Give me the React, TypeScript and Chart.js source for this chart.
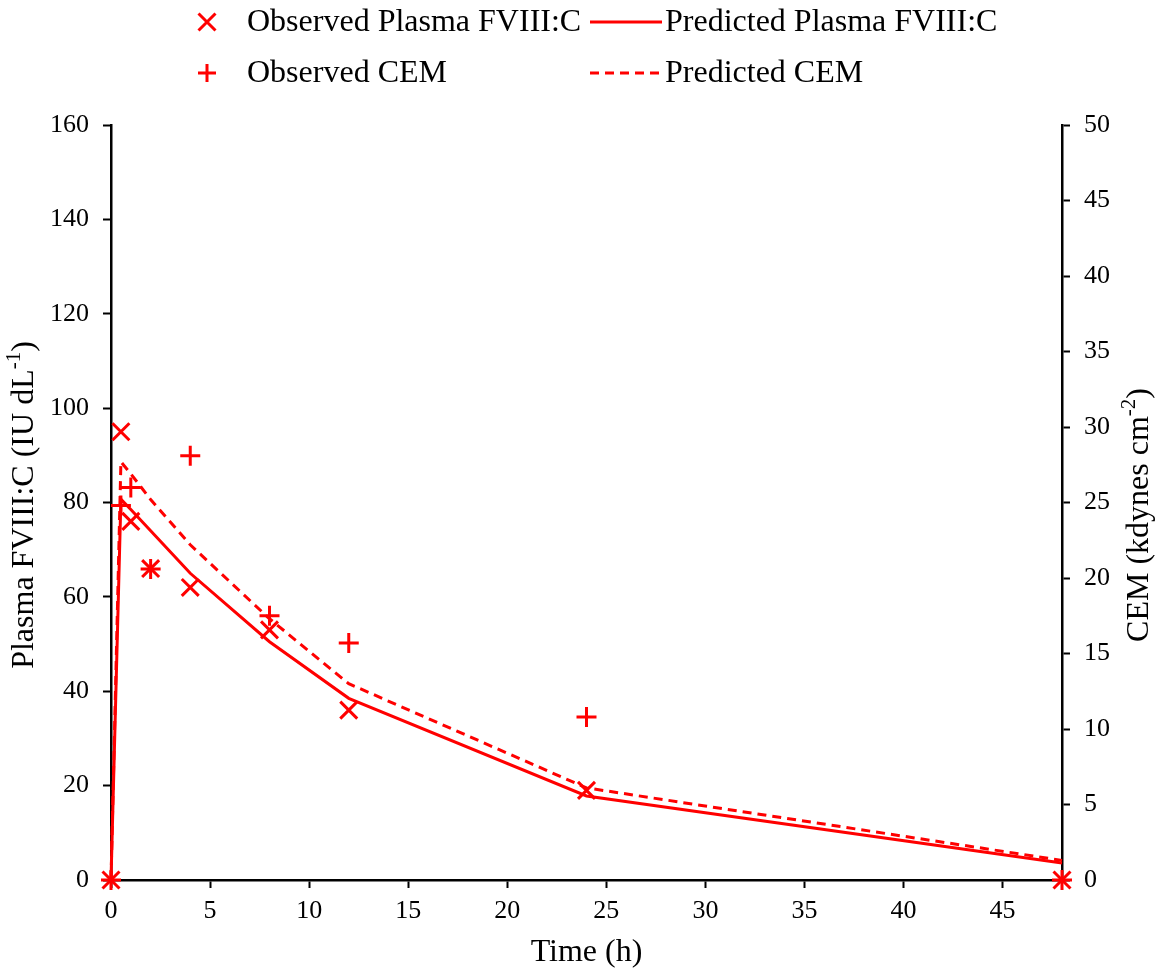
import React, { useEffect, useRef } from "react";
import { Chart, registerables } from "chart.js";

Chart.register(...registerables);

// ---- Data ----
const timeObserved = [0, 0.5, 1, 2, 4, 8, 12, 24, 48];
const plasmaObserved = [0, 95, 76, 66, 62, 53, 36, 19, 0];
const cemObserved = [0, 24.8, 26.0, 20.6, 28.1, 17.5, 15.7, 10.8, 0];

const timePredicted = [0, 0.5, 1, 2, 4, 8, 12, 24, 48];
const plasmaPredicted = [0, 80.7, 78.5, 74, 65, 50.5, 38.5, 17.8, 3.6];
const cemPredicted = [0, 27.7, 26.9, 25.2, 22.2, 17.3, 13.0, 6.1, 1.3];

const xTicks = [0, 5, 10, 15, 20, 25, 30, 35, 40, 45];
const leftTicks = [0, 20, 40, 60, 80, 100, 120, 140, 160];
const rightTicks = [0, 5, 10, 15, 20, 25, 30, 35, 40, 45, 50];

const seriesLabels = [
  "Observed Plasma FVIII:C",
  "Predicted Plasma FVIII:C",
  "Observed CEM",
  "Predicted CEM",
];

const RED = "#ff0000";
const FONT = '"Liberation Serif", "Times New Roman", serif';
const TITLE_SIZE = 32;

type Part = { t: string; sup?: boolean };

function drawRich(
  ctx: CanvasRenderingContext2D,
  parts: Part[],
  cx: number,
  cy: number,
  size: number,
  rotation: number
) {
  ctx.save();
  ctx.translate(cx, cy);
  ctx.rotate(rotation);
  ctx.fillStyle = "#000";
  ctx.textBaseline = "middle";
  ctx.textAlign = "left";
  const supSize = Math.round(size * 0.65);
  let total = 0;
  const widths = parts.map((p) => {
    ctx.font = `${p.sup ? supSize : size}px ${FONT}`;
    const w = ctx.measureText(p.t).width;
    total += w;
    return w;
  });
  let x = -total / 2;
  parts.forEach((p, i) => {
    ctx.font = `${p.sup ? supSize : size}px ${FONT}`;
    ctx.fillText(p.t, x, p.sup ? -size * 0.33 : 0);
    x += widths[i];
  });
  ctx.restore();
}

function drawMarker(ctx: CanvasRenderingContext2D, style: string, x: number, y: number, r: number) {
  ctx.save();
  ctx.strokeStyle = RED;
  ctx.lineWidth = 3;
  ctx.beginPath();
  if (style === "crossRot") {
    const d = r * Math.SQRT1_2;
    ctx.moveTo(x - d, y - d);
    ctx.lineTo(x + d, y + d);
    ctx.moveTo(x + d, y - d);
    ctx.lineTo(x - d, y + d);
  } else {
    ctx.moveTo(x - r, y);
    ctx.lineTo(x + r, y);
    ctx.moveTo(x, y - r);
    ctx.lineTo(x, y + r);
  }
  ctx.stroke();
  ctx.restore();
}

const legendSlots = [
  { x: 207, y: 22 },
  { x: 590, y: 22 },
  { x: 207, y: 73 },
  { x: 590, y: 73 },
];

const customPlugin = {
  id: "customDecor",
  afterDraw(chart: any) {
    const ctx: CanvasRenderingContext2D = chart.ctx;
    const area = chart.chartArea;
    const midX = (area.left + area.right) / 2;

    // Axis titles
    drawRich(ctx, [{ t: "Time (h)" }], midX, 953, TITLE_SIZE, 0);
    drawRich(
      ctx,
      [{ t: "Plasma FVIII:C (IU dL" }, { t: "-1", sup: true }, { t: ")" }],
      25,
      505,
      TITLE_SIZE,
      -Math.PI / 2
    );
    drawRich(
      ctx,
      [{ t: "CEM (kdynes cm" }, { t: "-2", sup: true }, { t: ")" }],
      1140,
      515,
      TITLE_SIZE,
      -Math.PI / 2
    );

    // Legend
    chart.data.datasets.forEach((ds: any, i: number) => {
      const slot = legendSlots[i];
      ctx.save();
      let textX: number;
      if (ds.showLine) {
        ctx.strokeStyle = RED;
        ctx.lineWidth = 3;
        ctx.setLineDash(ds.borderDash || []);
        ctx.beginPath();
        ctx.moveTo(slot.x, slot.y);
        ctx.lineTo(slot.x + 72, slot.y);
        ctx.stroke();
        ctx.setLineDash([]);
        textX = slot.x + 75;
      } else {
        drawMarker(ctx, ds.pointStyle, slot.x, slot.y, ds.pointStyle === "crossRot" ? 12 : 9);
        textX = slot.x + 40;
      }
      ctx.fillStyle = "#000";
      ctx.font = `${TITLE_SIZE}px ${FONT}`;
      ctx.textBaseline = "middle";
      ctx.textAlign = "left";
      ctx.fillText(ds.label, textX, slot.y + 1);
      ctx.restore();
    });
  },
};

export default function App() {
  const canvasRef = useRef<HTMLCanvasElement | null>(null);

  useEffect(() => {
    const canvas = canvasRef.current;
    if (!canvas) return;
    const toPts = (xs: number[], ys: number[]) => xs.map((x, i) => ({ x, y: ys[i] }));

    const tickFont = { family: FONT, size: 26 };
    const gridCommon = {
      display: true,
      drawOnChartArea: false,
      drawTicks: true,
      tickLength: 8,
      tickWidth: 2,
      tickColor: "#000",
      color: "#000",
    };
    const borderCommon = { display: true, color: "#000", width: 2.5 };

    const chart = new Chart(canvas, {
      type: "scatter",
      data: {
        datasets: [
          {
            label: seriesLabels[0],
            data: toPts(timeObserved, plasmaObserved),
            yAxisID: "y",
            pointStyle: "crossRot",
            pointRadius: 12,
            pointBorderWidth: 3,
            borderColor: RED,
            backgroundColor: RED,
            showLine: false,
            clip: false,
          },
          {
            label: seriesLabels[1],
            data: toPts(timePredicted, plasmaPredicted),
            yAxisID: "y",
            showLine: true,
            pointRadius: 0,
            borderColor: RED,
            borderWidth: 3,
            backgroundColor: RED,
            clip: false,
          },
          {
            label: seriesLabels[2],
            data: toPts(timeObserved, cemObserved),
            yAxisID: "y1",
            pointStyle: "cross",
            pointRadius: 10,
            pointBorderWidth: 3,
            borderColor: RED,
            backgroundColor: RED,
            showLine: false,
            clip: false,
          },
          {
            label: seriesLabels[3],
            data: toPts(timePredicted, cemPredicted),
            yAxisID: "y1",
            showLine: true,
            pointRadius: 0,
            borderColor: RED,
            borderWidth: 3,
            borderDash: [9, 6],
            backgroundColor: RED,
            clip: false,
          },
        ] as any,
      },
      options: {
        responsive: false,
        animation: false,
        devicePixelRatio: 1,
        layout: { padding: { top: 125, left: 0, right: 0, bottom: 0 } },
        plugins: {
          legend: { display: false },
          tooltip: { enabled: false },
          title: { display: false },
        },
        scales: {
          x: {
            type: "linear",
            min: 0,
            max: 48,
            afterBuildTicks: (scale: any) => {
              scale.ticks = xTicks.map((v) => ({ value: v }));
            },
            afterFit: (scale: any) => {
              scale.height = 93;
            },
            grid: gridCommon,
            border: borderCommon,
            ticks: { font: tickFont, color: "#000", padding: 8, maxRotation: 0 },
          },
          y: {
            type: "linear",
            position: "left",
            min: 0,
            max: 160,
            afterBuildTicks: (scale: any) => {
              scale.ticks = leftTicks.map((v) => ({ value: v }));
            },
            afterFit: (scale: any) => {
              scale.width = 111;
            },
            grid: gridCommon,
            border: borderCommon,
            ticks: { font: tickFont, color: "#000", padding: 14 },
          },
          y1: {
            type: "linear",
            position: "right",
            min: 0,
            max: 50,
            afterBuildTicks: (scale: any) => {
              scale.ticks = rightTicks.map((v) => ({ value: v }));
            },
            afterFit: (scale: any) => {
              scale.width = 100;
            },
            grid: gridCommon,
            border: borderCommon,
            ticks: { font: tickFont, color: "#000", padding: 14 },
          },
        },
      } as any,
      plugins: [customPlugin],
    });

    return () => {
      chart.destroy();
    };
  }, []);

  return (
    <div style={{ position: "fixed", left: 0, top: 0, width: 1162, height: 973, background: "#fff" }}>
      <canvas ref={canvasRef} width={1162} height={973} style={{ display: "block" }} />
    </div>
  );
}
